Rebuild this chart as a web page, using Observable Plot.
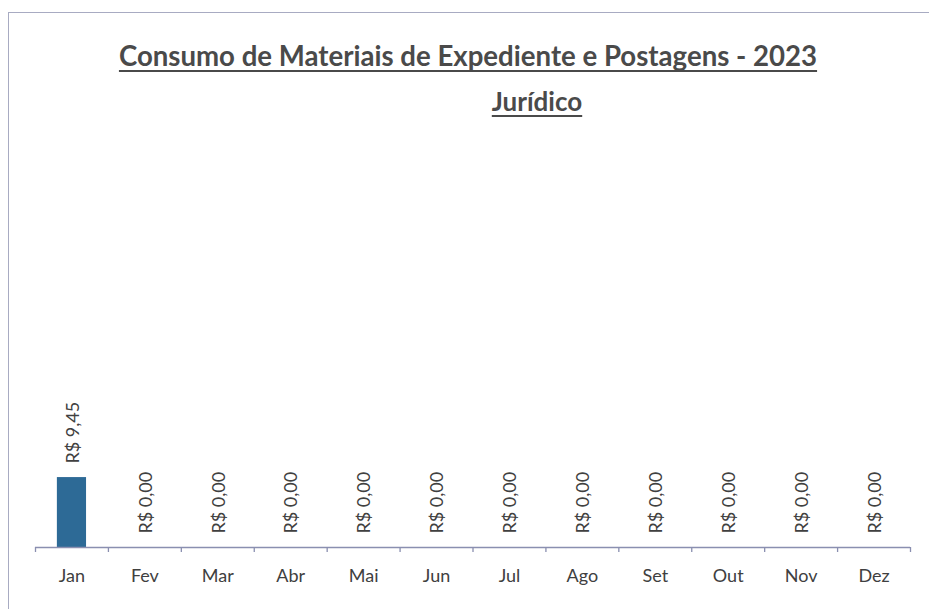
<!DOCTYPE html>
<html>
<head>
<meta charset="utf-8">
<script src="https://cdn.jsdelivr.net/npm/d3@7"></script>
<script src="https://cdn.jsdelivr.net/npm/@observablehq/plot@0.6"></script>
<style>
  html, body { margin: 0; padding: 0; background: #fff; }
  #wrap { position: relative; width: 929px; height: 609px; overflow: hidden; }
  #frame { position: absolute; left: 8px; top: 12px; width: 940px; height: 620px; border: 1px solid #a8abc2; box-sizing: border-box; }
  .t { position: absolute; font-family: Lato, "Open Sans", sans-serif; font-weight: bold; color: #4a4a4a; text-decoration: underline; text-decoration-thickness: 2px; text-underline-offset: 4px; text-decoration-skip-ink: none; white-space: nowrap; transform: translateX(-50%); }
  #title { left: 468px; top: 39px; font-size: 27.6px; }
  #sub { left: 537px; top: 85px; font-size: 26px; }
  #chart { position: absolute; left: 0; top: 0; }
</style>
</head>
<body>
<div id="wrap">
  <div id="frame"></div>
  <div id="chart"></div>
  <div class="t" id="title">Consumo de Materiais de Expediente e Postagens - 2023</div>
  <div class="t" id="sub">Jurídico</div>
</div>
<script>
const months = ["Jan","Fev","Mar","Abr","Mai","Jun","Jul","Ago","Set","Out","Nov","Dez"];
const values = [9.45, 0, 0, 0, 0, 0, 0, 0, 0, 0, 0, 0];

const data = months.map((m, i) => ({month: m, value: values[i]}));
const fmt = v => "R$ " + v.toFixed(2).replace(".", ",");

const W = 929, H = 609, mL = 35, mR = 19, mT = 177, mB = 62;
const bw = (W - mL - mR) / months.length;

const plot = Plot.plot({
  width: W,
  height: H,
  marginLeft: mL,
  marginRight: mR,
  marginTop: mT,
  marginBottom: mB,
  style: {background: "transparent", fontFamily: "Lato, 'Open Sans', sans-serif", color: "#404040"},
  x: {domain: months, paddingInner: 0.6, paddingOuter: 0.3, round: false, label: null, tickSize: 0, tickPadding: 22},
  y: {domain: [0, 50], axis: null},
  marks: [
    Plot.barY(data, {x: "month", y: "value", fill: "#2d6a96"}),
    Plot.ruleY([0], {stroke: "#8a8fb0", strokeWidth: 1.3}),
    Plot.ruleX(months, {x: d => d, y1: 0, y2: 0, insetBottom: -5, dx: -bw / 2, stroke: "#8a8fb0", strokeWidth: 1.3}),
    Plot.ruleX([months[months.length - 1]], {x: d => d, y1: 0, y2: 0, insetBottom: -5, dx: bw / 2, stroke: "#8a8fb0", strokeWidth: 1.3}),
    Plot.text(data, {x: "month", y: "value", text: d => fmt(d.value), rotate: -90, textAnchor: "start", lineAnchor: "middle", dy: -14, dx: 1, fontSize: 18, fill: "#404040"}),
    Plot.axisX({domain: months, tickSize: 0, tickPadding: 22, fontSize: 18, label: null, fill: "#404040"})
  ]
});
plot.querySelectorAll("[aria-label='x-axis tick label'] text").forEach(t => t.setAttribute("font-size", 18));
document.getElementById("chart").appendChild(plot);
</script>
</body>
</html>
